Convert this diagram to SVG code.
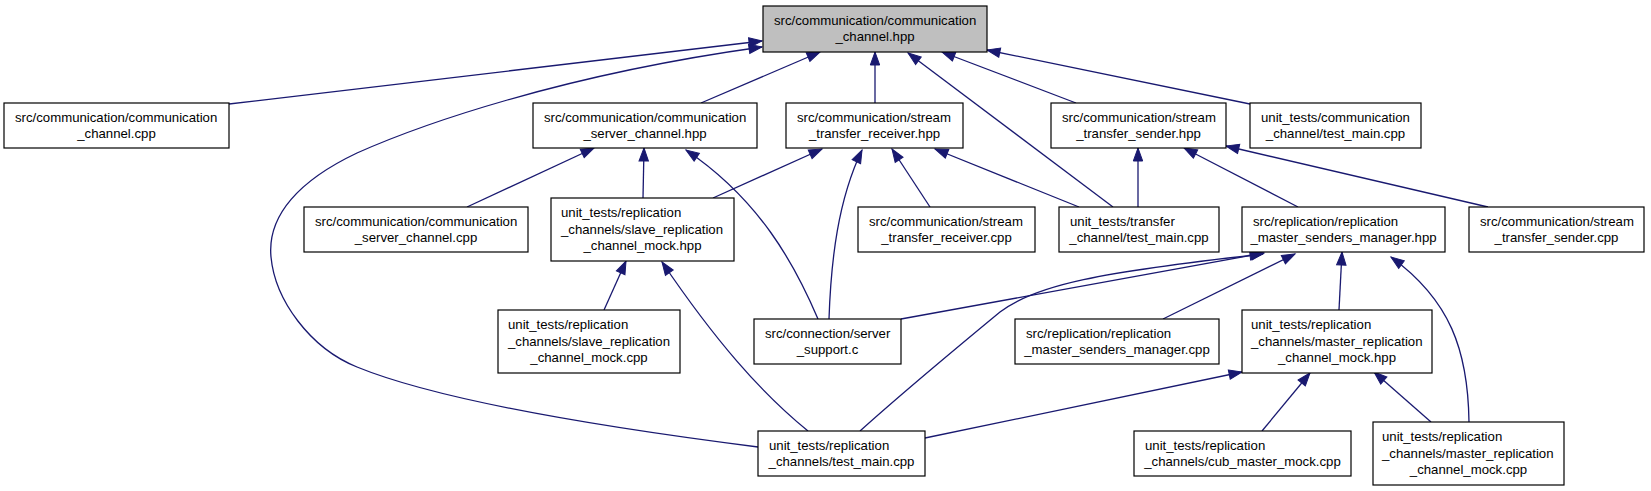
<svg xmlns="http://www.w3.org/2000/svg" width="1651" height="491" viewBox="0 0 1651 491">
<style>
.n rect{fill:#fff;stroke:#000;stroke-width:1.2}
.n text{font-family:"Liberation Sans",Arial,Helvetica,sans-serif;font-size:13.2px;fill:#000}
.m{text-anchor:middle}
#edges path{fill:none;stroke:#191970;stroke-width:1.3;marker-end:url(#a)}
</style>
<defs>
<marker id="a" markerWidth="14" markerHeight="10" refX="13" refY="5" orient="auto" markerUnits="userSpaceOnUse" viewBox="0 0 14 10" overflow="visible">
<path d="M0,0.3 L13,5 L0,9.7 z" fill="#191970" stroke="#191970" stroke-width="1"/>
</marker>
</defs>
<rect width="1651" height="491" fill="#fff"/>
<g id="edges">
<path d="M229,104 L762,41"/>
<path d="M758,447 C640,432 450,405 357,367 C310,348 275,300 271,257 C267,215 300,180 357,153 C420,125 560,75 762,47"/>
<path d="M701,103 L820,52"/>
<path d="M875,103 L875,52"/>
<path d="M1113,207 L908,53"/>
<path d="M1076,103 L942,52"/>
<path d="M1250,104 L987,50"/>
<path d="M643,198 L644,148"/>
<path d="M467,207 L594,148"/>
<path d="M818,319 C795,265 760,200 686,150"/>
<path d="M713,198 L822,149"/>
<path d="M829,319 C831,260 838,200 862,150"/>
<path d="M930,207 L892,149"/>
<path d="M1079,207 L935,149"/>
<path d="M1138,207 L1138,148"/>
<path d="M1298,207 L1184,148"/>
<path d="M1488,207 L1226,146"/>
<path d="M604,310 L626,261"/>
<path d="M808,431 C760,392 715,340 662,262"/>
<path d="M901,319 L1264,253"/>
<path d="M860,431 C900,395 960,345 1000,312 C1035,285 1100,272 1263,254"/>
<path d="M1163,319 L1295,254"/>
<path d="M1339,310 L1342,252"/>
<path d="M1469,422 C1468,350 1450,300 1391,257"/>
<path d="M925,438 L1242,372"/>
<path d="M1262,431 L1310,373"/>
<path d="M1431,422 L1374,372"/>
</g>
<g id="n0" class="n"><rect x="763" y="6" width="224" height="46" style="fill:#bfbfbf"/><text x="774" y="24.75">src/communication/communication</text><text class="m" x="875" y="41.25">_channel.hpp</text></g>
<g id="n1" class="n"><rect x="4" y="103" width="225" height="45"/><text x="15" y="121.75">src/communication/communication</text><text class="m" x="116.5" y="138.25">_channel.cpp</text></g>
<g id="n2" class="n"><rect x="533" y="103" width="224" height="45"/><text x="544" y="121.75">src/communication/communication</text><text class="m" x="645" y="138.25">_server_channel.hpp</text></g>
<g id="n3" class="n"><rect x="786" y="103" width="177" height="45"/><text x="797" y="121.75">src/communication/stream</text><text class="m" x="874.5" y="138.25">_transfer_receiver.hpp</text></g>
<g id="n4" class="n"><rect x="1051" y="103" width="175" height="45"/><text x="1062" y="121.75">src/communication/stream</text><text class="m" x="1138.5" y="138.25">_transfer_sender.hpp</text></g>
<g id="n5" class="n"><rect x="1250" y="103" width="171" height="45"/><text x="1261" y="121.75">unit_tests/communication</text><text class="m" x="1335.5" y="138.25">_channel/test_main.cpp</text></g>
<g id="n6" class="n"><rect x="304" y="207" width="224" height="45"/><text x="315" y="225.75">src/communication/communication</text><text class="m" x="416" y="242.25">_server_channel.cpp</text></g>
<g id="n7" class="n"><rect x="551" y="198" width="183" height="63"/><text x="561" y="217">unit_tests/replication</text><text x="561" y="233.5">_channels/slave_replication</text><text class="m" x="642.5" y="250">_channel_mock.hpp</text></g>
<g id="n8" class="n"><rect x="858" y="207" width="177" height="45"/><text x="869" y="225.75">src/communication/stream</text><text class="m" x="946.5" y="242.25">_transfer_receiver.cpp</text></g>
<g id="n9" class="n"><rect x="1059" y="207" width="160" height="45"/><text x="1070" y="225.75">unit_tests/transfer</text><text class="m" x="1139" y="242.25">_channel/test_main.cpp</text></g>
<g id="n10" class="n"><rect x="1242" y="207" width="203" height="45"/><text x="1253" y="225.75">src/replication/replication</text><text class="m" x="1343.5" y="242.25">_master_senders_manager.hpp</text></g>
<g id="n11" class="n"><rect x="1469" y="207" width="175" height="45"/><text x="1480" y="225.75">src/communication/stream</text><text class="m" x="1556.5" y="242.25">_transfer_sender.cpp</text></g>
<g id="n12" class="n"><rect x="498" y="310" width="182" height="63"/><text x="508" y="329">unit_tests/replication</text><text x="508" y="345.5">_channels/slave_replication</text><text class="m" x="589" y="362">_channel_mock.cpp</text></g>
<g id="n13" class="n"><rect x="754" y="319" width="147" height="45"/><text x="765" y="337.75">src/connection/server</text><text class="m" x="827.5" y="354.25">_support.c</text></g>
<g id="n14" class="n"><rect x="1015" y="319" width="204" height="45"/><text x="1026" y="337.75">src/replication/replication</text><text class="m" x="1117" y="354.25">_master_senders_manager.cpp</text></g>
<g id="n15" class="n"><rect x="1242" y="310" width="190" height="63"/><text x="1251" y="329">unit_tests/replication</text><text x="1251" y="345.5">_channels/master_replication</text><text class="m" x="1337" y="362">_channel_mock.hpp</text></g>
<g id="n16" class="n"><rect x="758" y="431" width="167" height="45"/><text x="769" y="449.75">unit_tests/replication</text><text class="m" x="841.5" y="466.25">_channels/test_main.cpp</text></g>
<g id="n17" class="n"><rect x="1134" y="431" width="217" height="45"/><text x="1145" y="449.75">unit_tests/replication</text><text class="m" x="1242.5" y="466.25">_channels/cub_master_mock.cpp</text></g>
<g id="n18" class="n"><rect x="1373" y="422" width="191" height="63"/><text x="1382" y="441">unit_tests/replication</text><text x="1382" y="457.5">_channels/master_replication</text><text class="m" x="1468.5" y="474">_channel_mock.cpp</text></g>
</svg>
